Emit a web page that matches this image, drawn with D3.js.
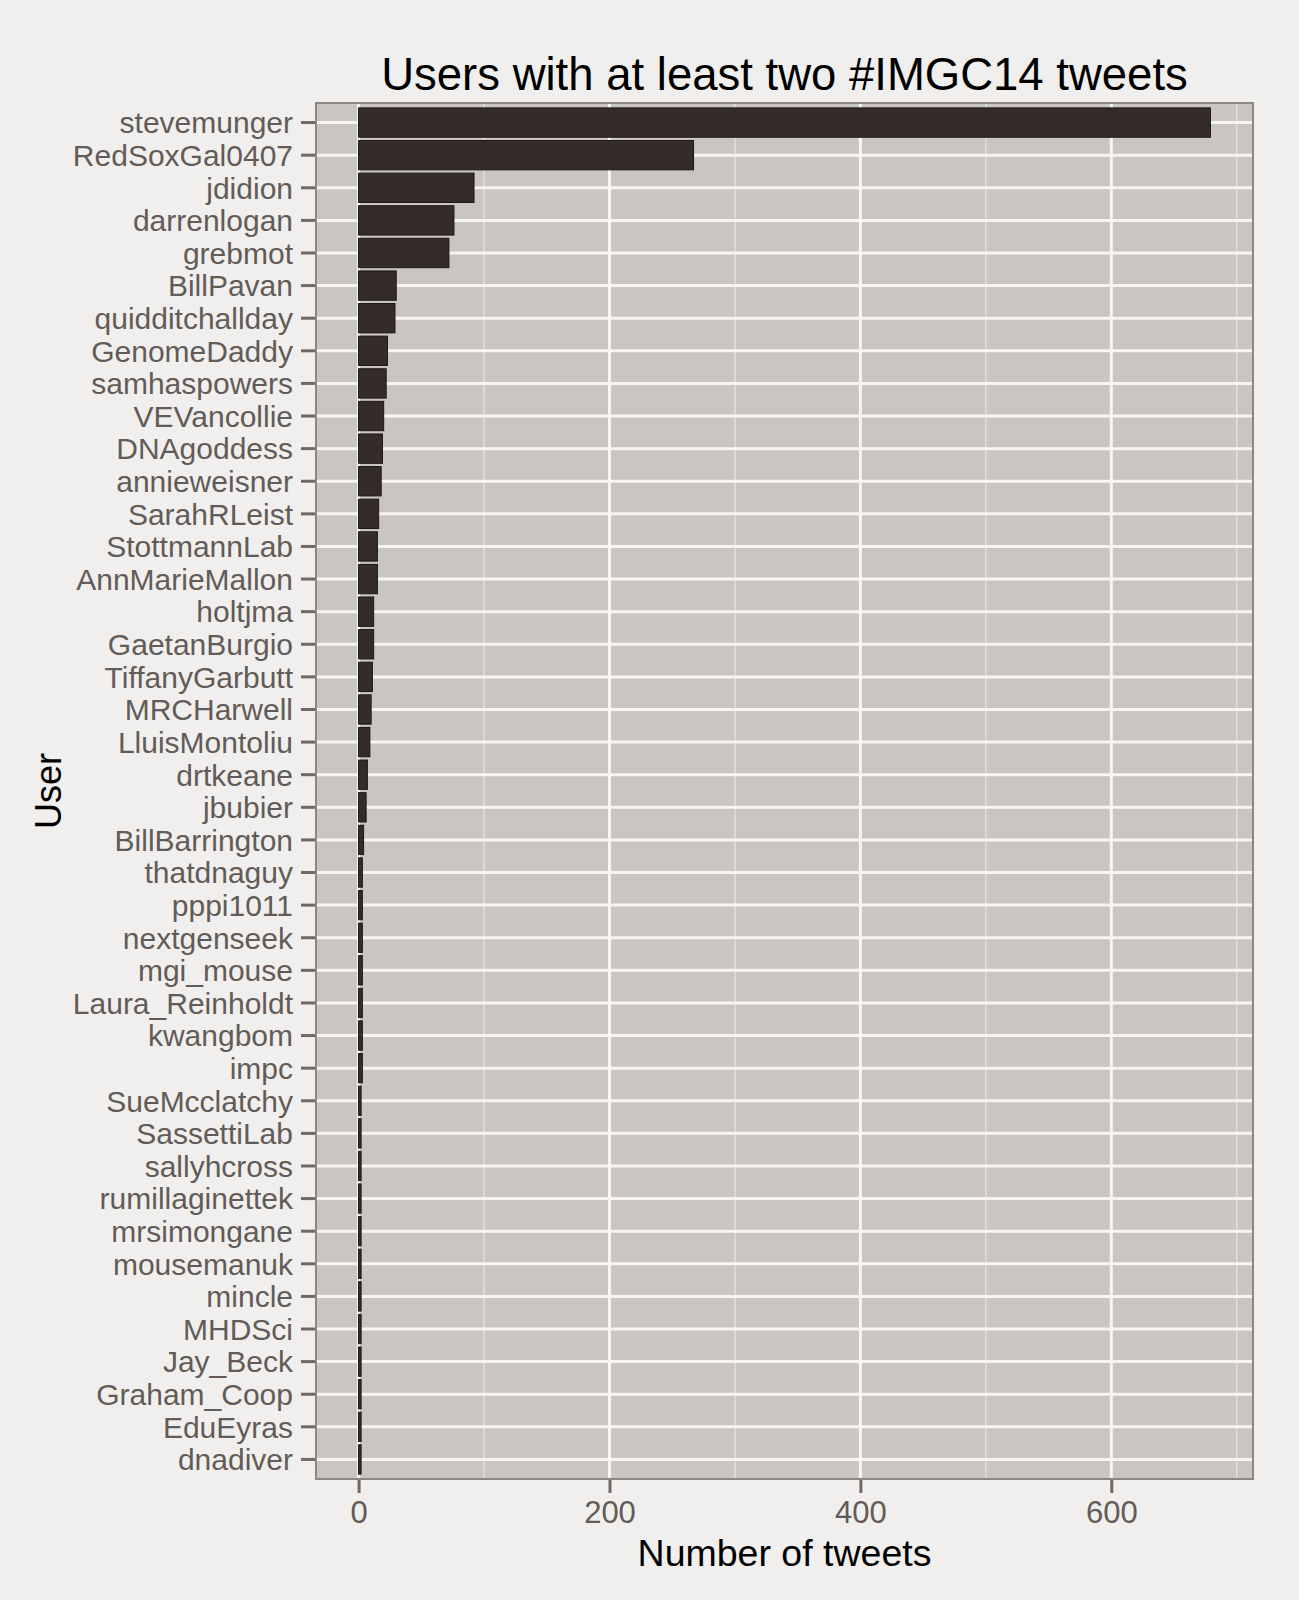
<!DOCTYPE html>
<html>
<head>
<meta charset="utf-8">
<script src="https://cdn.jsdelivr.net/npm/d3@7"></script>
<style>
  body { margin: 0; background: #f0efed; }
  text { font-family: "Liberation Sans", Arial, Helvetica, sans-serif; }
</style>
</head>
<body>
<div id="chart"></div>
<script>
// users, top to bottom
const users = [
    "stevemunger", "RedSoxGal0407", "jdidion", "darrenlogan", "grebmot",
    "BillPavan", "quidditchallday", "GenomeDaddy", "samhaspowers", "VEVancollie",
    "DNAgoddess", "annieweisner", "SarahRLeist", "StottmannLab", "AnnMarieMallon",
    "holtjma", "GaetanBurgio", "TiffanyGarbutt", "MRCHarwell", "LluisMontoliu",
    "drtkeane", "jbubier", "BillBarrington", "thatdnaguy", "pppi1011",
    "nextgenseek", "mgi_mouse", "Laura_Reinholdt", "kwangbom", "impc",
    "SueMcclatchy", "SassettiLab", "sallyhcross", "rumillaginettek", "mrsimongane",
    "mousemanuk", "mincle", "MHDSci", "Jay_Beck", "Graham_Coop",
    "EduEyras", "dnadiver"
];
const tweets = [
    679, 267, 92, 76, 72,
    30, 29, 23, 22, 20,
    19, 18, 16, 15, 15,
    12, 12, 11, 10, 9,
    7, 6, 4, 3, 3,
    3, 3, 3, 3, 3,
    2, 2, 2, 2, 2,
    2, 2, 2, 2, 2,
    2, 2
];
const xTicks = [0, 200, 400, 600];
const xMinor = [100, 300, 500, 700];

const data = users.map((u, i) => ({ user: u, n: tweets[i] }));

const width = 1299, height = 1600;
const panel = { left: 316, right: 1253, top: 103, bottom: 1479 };

const svg = d3.select("#chart")
    .append("svg")
    .attr("width", width)
    .attr("height", height);

svg.append("rect")
    .attr("width", width)
    .attr("height", height)
    .attr("fill", "#f0efed");

// ggplot-style expansion: 5% on the continuous axis
const maxN = d3.max(tweets);
const x = d3.scaleLinear()
    .domain([-0.05 * maxN, 1.05 * maxN])
    .range([panel.left, panel.right]);

const y = d3.scaleBand()
    .domain(users)
    .range([panel.top, panel.bottom])
    .paddingInner(0.1)
    .paddingOuter(0.15);

const yMid = d => y(d) + y.bandwidth() / 2;

// panel background
svg.append("rect")
    .attr("x", panel.left)
    .attr("y", panel.top)
    .attr("width", panel.right - panel.left)
    .attr("height", panel.bottom - panel.top)
    .attr("fill", "#c9c5c1");

// minor vertical grid
svg.append("g")
    .selectAll("line")
    .data(xMinor)
    .join("line")
    .attr("x1", d => x(d)).attr("x2", d => x(d))
    .attr("y1", panel.top).attr("y2", panel.bottom)
    .attr("stroke", "#e2dfdc")
    .attr("stroke-width", 1.5);

// major vertical grid
svg.append("g")
    .selectAll("line")
    .data(xTicks)
    .join("line")
    .attr("x1", d => x(d)).attr("x2", d => x(d))
    .attr("y1", panel.top).attr("y2", panel.bottom)
    .attr("stroke", "#f7f5f3")
    .attr("stroke-width", 3);

// horizontal grid at each user
svg.append("g")
    .selectAll("line")
    .data(users)
    .join("line")
    .attr("x1", panel.left).attr("x2", panel.right)
    .attr("y1", d => yMid(d)).attr("y2", d => yMid(d))
    .attr("stroke", "#f7f5f3")
    .attr("stroke-width", 3);

// bars
svg.append("g")
    .selectAll("rect")
    .data(data)
    .join("rect")
    .attr("x", x(0))
    .attr("y", d => y(d.user))
    .attr("width", d => x(d.n) - x(0))
    .attr("height", y.bandwidth())
    .attr("fill", "#352c29")
    .attr("stroke", "#1c1614")
    .attr("stroke-width", 1);

// panel border
svg.append("rect")
    .attr("x", panel.left)
    .attr("y", panel.top)
    .attr("width", panel.right - panel.left)
    .attr("height", panel.bottom - panel.top)
    .attr("fill", "none")
    .attr("stroke", "#8d8782")
    .attr("stroke-width", 2);

// y axis
const yAxis = svg.append("g")
    .attr("transform", `translate(${panel.left - 1},0)`)
    .call(d3.axisLeft(y).tickSize(14).tickPadding(8));
yAxis.select(".domain").remove();
yAxis.selectAll(".tick line")
    .attr("stroke", "#6f6864")
    .attr("stroke-width", 3);
yAxis.selectAll(".tick text")
    .attr("fill", "#625b57")
    .style("font-size", "30px")
    .style("font-family", "'Liberation Sans', Arial, sans-serif")
    .attr("dy", "0.36em");

// x axis
const xAxis = svg.append("g")
    .attr("transform", `translate(0,${panel.bottom + 1})`)
    .call(d3.axisBottom(x).tickValues(xTicks).tickSize(13).tickPadding(8));
xAxis.select(".domain").remove();
xAxis.selectAll(".tick line")
    .attr("stroke", "#6f6864")
    .attr("stroke-width", 3);
xAxis.selectAll(".tick text")
    .attr("fill", "#625b57")
    .style("font-size", "31px")
    .style("font-family", "'Liberation Sans', Arial, sans-serif");

// titles
svg.append("text")
    .attr("x", (panel.left + panel.right) / 2)
    .attr("y", 90)
    .attr("text-anchor", "middle")
    .attr("fill", "#000")
    .style("font-size", "45.5px")
    .text("Users with at least two #IMGC14 tweets");

svg.append("text")
    .attr("x", (panel.left + panel.right) / 2)
    .attr("y", 1566)
    .attr("text-anchor", "middle")
    .attr("fill", "#000")
    .style("font-size", "37.5px")
    .text("Number of tweets");

svg.append("text")
    .attr("transform", `translate(61,${(panel.top + panel.bottom) / 2}) rotate(-90)`)
    .attr("text-anchor", "middle")
    .attr("fill", "#000")
    .style("font-size", "36px")
    .text("User");
</script>
</body>
</html>
